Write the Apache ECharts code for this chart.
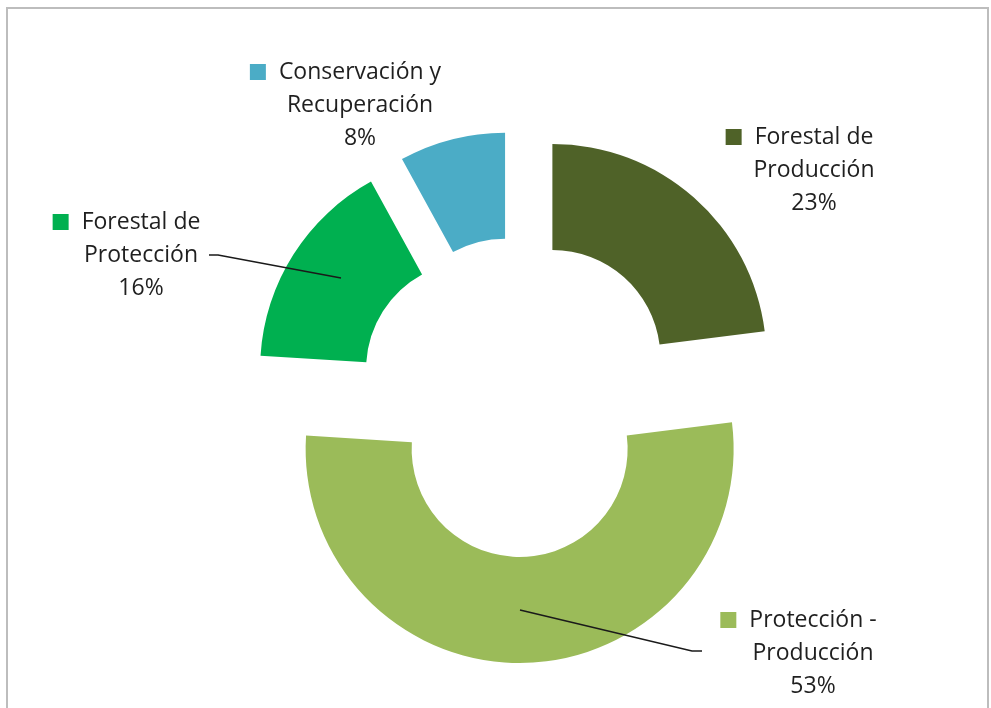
<!DOCTYPE html>
<html>
<head>
<meta charset="utf-8">
<script src="https://cdn.jsdelivr.net/npm/echarts@6/dist/echarts.min.js"></script>
<style>
  html, body { margin: 0; padding: 0; background: #fff; }
  #chart { width: 991px; height: 708px; }
</style>
</head>
<body>
<div id="chart"></div>
<script>
// categorias y valores (%)
var categories = ['Forestal de Producción', 'Protección - Producción', 'Forestal de Protección', 'Conservación y Recuperación'];
var values = [23, 53, 16, 8];
var colors = ['#4F6228', '#9BBB59', '#00B050', '#4BACC6'];

// posicion de las etiquetas (centro del bloque) y lineas guia
var labelPos = [[814, 170], [813, 653], [141, 255], [360, 105]];
var leaderLines = [null, [[520, 610], [692, 651], [702, 651]], [[341, 278], [218, 255], [209, 255]], null];

var chart = echarts.init(document.getElementById('chart'));

var sliceData = [];
var labelData = [];
for (var i = 0; i < categories.length; i++) {
    sliceData.push({
        name: categories[i],
        value: values[i],
        selected: true,
        itemStyle: { color: colors[i] }
    });
    labelData.push({
        name: categories[i],
        value: values[i],
        itemStyle: { color: 'rgba(0,0,0,0)' },
        label: {
            rich: {
                sq: { width: 16, height: 16, backgroundColor: colors[i] },
                gap: { width: 13 },
                pad: { width: 29 }
            }
        },
        labelLine: { show: leaderLines[i] != null }
    });
}

var option = {
    animation: false,
    graphic: [{
        type: 'rect',
        shape: { x: 7, y: 8, width: 981, height: 720 },
        style: { fill: 'none', stroke: '#bdbdbd', lineWidth: 2 },
        silent: true
    }],
    series: [{
        // sectores separados
        type: 'pie',
        z: 2,
        center: [518, 397],
        radius: [108, 214],
        startAngle: 90,
        clockwise: true,
        selectedMode: 'multiple',
        selectedOffset: 52,
        emphasis: { disabled: true },
        select: { itemStyle: { borderWidth: 0 } },
        label: { show: false },
        labelLine: { show: false },
        data: sliceData
    }, {
        // solo etiquetas
        type: 'pie',
        z: 5,
        zlevel: 1,
        center: [518, 397],
        radius: [108, 214],
        startAngle: 90,
        clockwise: true,
        silent: true,
        avoidLabelOverlap: false,
        emphasis: { disabled: true },
        label: {
            show: true,
            position: 'outside',
            fontFamily: 'Open Sans',
            fontSize: 23,
            lineHeight: 33,
            color: '#1f1f1f',
            align: 'center',
            formatter: function (p) {
                var k = p.name.lastIndexOf(' ');
                return '{sq|}{gap|}' + p.name.substring(0, k) + '{pad|}\n' + p.name.substring(k + 1) + '\n' + Math.round(p.percent) + '%';
            }
        },
        labelLine: {
            show: true,
            smooth: false,
            lineStyle: { color: '#1a1a1a', width: 1.5 }
        },
        labelLayout: function (params) {
            var i = params.dataIndex;
            var res = { x: labelPos[i][0], y: labelPos[i][1], align: 'center', verticalAlign: 'middle' };
            if (leaderLines[i]) res.labelLinePoints = leaderLines[i];
            return res;
        },
        data: labelData
    }]
};

chart.setOption(option);
window.addEventListener('resize', function () {
    chart.resize();
});
</script>
</body>
</html>
